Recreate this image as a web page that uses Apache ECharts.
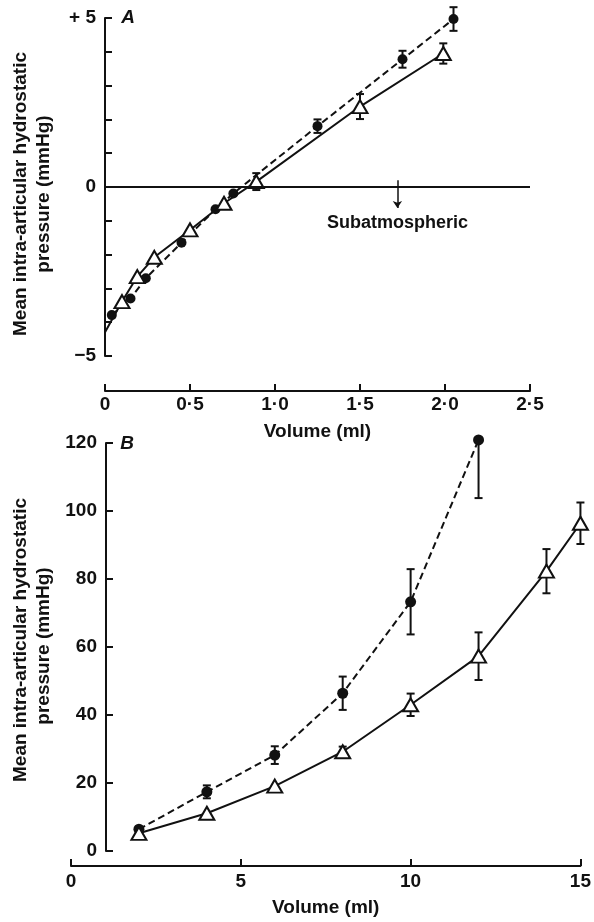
<!DOCTYPE html>
<html>
<head>
<meta charset="utf-8">
<script src="https://cdn.jsdelivr.net/npm/echarts@6/dist/echarts.min.js"></script>
<style>
  html, body { margin: 0; padding: 0; background: #fff; }
  #chart { width: 594px; height: 922px; }
</style>
</head>
<body>
<div id="chart"></div>
<script>
// Panel A: small injected volumes (ml) against mean pressure (mmHg)
const aCircleVolume = [0.04, 0.15, 0.24, 0.45, 0.65, 0.755, 1.25, 1.75, 2.05];
const aCirclePressure = [-3.79, -3.3, -2.7, -1.65, -0.66, -0.19, 1.8, 3.78, 4.97];
const aCircleError = [0, 0, 0, 0, 0, 0, 0.2, 0.25, 0.35];
const aTriangleVolume = [0.1, 0.19, 0.29, 0.5, 0.7, 0.89, 1.5, 1.99];
const aTrianglePressure = [-3.39, -2.65, -2.08, -1.27, -0.48, 0.16, 2.38, 3.95];
const aTriangleError = [0, 0, 0, 0, 0, 0.25, 0.37, 0.3];
const aSolidStart = [0, -4.3];           // origin of the solid curve (no marker)
const aYLabels = { '5': '+ 5', '0': '0', '-5': '\u22125' };
const aArrowVolume = 1.72;
const aArrowFrom = 0.2, aArrowTo = -0.62;

// Panel B: larger injected volumes (ml) against mean pressure (mmHg)
const bCircleVolume = [2, 4, 6, 8, 10, 12];
const bCirclePressure = [6.4, 17.4, 28.2, 46.4, 73.3, 120.9];
const bCircleErrLow = [0, 1.9, 2.6, 4.9, 9.6, 17.1];
const bCircleErrHigh = [0, 1.9, 2.6, 4.9, 9.6, 0];
const bTriangleVolume = [2, 4, 6, 8, 10, 12, 14, 15];
const bTrianglePressure = [5.2, 11.1, 19.1, 29.2, 43.0, 57.3, 82.3, 96.4];
const bTriangleError = [0, 0, 0, 1.5, 3.3, 7, 6.5, 6.1];

const FONT = '"Liberation Sans", Arial, Helvetica, sans-serif';
const INK = '#111';
const textStyle = { color: INK, fontFamily: FONT, fontWeight: 'bold', fontSize: 19 };

const pairs = (xs, ys) => xs.map((x, i) => [x, ys[i]]);
const bars = (xs, ys, lo, hi) =>
  xs.map((x, i) => [x, ys[i] - lo[i], ys[i] + hi[i]]).filter((d, i) => lo[i] > 0 || hi[i] > 0);

function renderErrorBar(params, api) {
  const x = api.value(0);
  const lo = api.coord([x, api.value(1)]);
  const hi = api.coord([x, api.value(2)]);
  const w = 4;
  const style = { stroke: INK, lineWidth: 2 };
  return {
    type: 'group',
    children: [
      { type: 'line', shape: { x1: lo[0], y1: lo[1], x2: hi[0], y2: hi[1] }, style },
      { type: 'line', shape: { x1: lo[0] - w, y1: lo[1], x2: lo[0] + w, y2: lo[1] }, style },
      { type: 'line', shape: { x1: hi[0] - w, y1: hi[1], x2: hi[0] + w, y2: hi[1] }, style }
    ]
  };
}

const axisLine = { show: true, onZero: false, lineStyle: { color: INK, width: 2 } };
const axisTick = { show: true, inside: true, length: 7, lineStyle: { color: INK, width: 2 } };

const circleStyle = { color: INK, borderColor: INK, borderWidth: 0 };
const triangleStyle = { color: '#fff', borderColor: INK, borderWidth: 2 };

const chart = echarts.init(document.getElementById('chart'), null, { renderer: 'canvas' });

chart.setOption({
  animation: false,
  backgroundColor: '#fff',
  grid: [
    { left: 105, top: 18, width: 425, height: 338 },
    { left: 71, top: 443, width: 512, height: 408 }
  ],
  xAxis: [
    {
      gridIndex: 0, type: 'value', min: 0, max: 2.5, interval: 0.5,
      position: 'bottom', offset: 35,
      axisLine, axisTick, splitLine: { show: false },
      axisLabel: {
        ...textStyle, margin: 4,
        formatter: v => (v === 0 ? '0' : v.toFixed(1).replace('.', '\u00b7'))
      },
      name: 'Volume (ml)', nameLocation: 'middle', nameGap: 31,
      nameTextStyle: textStyle
    },
    {
      gridIndex: 1, type: 'value', min: 0, max: 15, interval: 5,
      position: 'bottom', offset: 15,
      axisLine, axisTick, splitLine: { show: false },
      axisLabel: { ...textStyle, margin: 6 },
      name: 'Volume (ml)', nameLocation: 'middle', nameGap: 32,
      nameTextStyle: textStyle
    }
  ],
  yAxis: [
    {
      gridIndex: 0, type: 'value', min: -5, max: 5, interval: 1,
      axisLine, axisTick, splitLine: { show: false },
      axisLabel: { ...textStyle, margin: 9, formatter: v => aYLabels[String(v)] || '' }
    },
    {
      gridIndex: 1, type: 'value', min: 0, max: 120, interval: 20,
      offset: -35,
      axisLine, axisTick, splitLine: { show: false },
      axisLabel: { ...textStyle, margin: 9 }
    }
  ],
  graphic: [
    { type: 'text', x: 128, y: 18, style: { text: 'A', font: 'italic bold 19px ' + FONT, fill: INK, align: 'center', verticalAlign: 'middle' } },
    { type: 'text', x: 127, y: 444, style: { text: 'B', font: 'italic bold 19px ' + FONT, fill: INK, align: 'center', verticalAlign: 'middle' } },
    { type: 'text', x: 21, y: 194, rotation: Math.PI / 2, style: { text: 'Mean intra-articular hydrostatic', font: 'bold 19px ' + FONT, fill: INK, align: 'center', verticalAlign: 'middle' } },
    { type: 'text', x: 44, y: 194, rotation: Math.PI / 2, style: { text: 'pressure (mmHg)', font: 'bold 19px ' + FONT, fill: INK, align: 'center', verticalAlign: 'middle' } },
    { type: 'text', x: 21, y: 640, rotation: Math.PI / 2, style: { text: 'Mean intra-articular hydrostatic', font: 'bold 19px ' + FONT, fill: INK, align: 'center', verticalAlign: 'middle' } },
    { type: 'text', x: 44, y: 646, rotation: Math.PI / 2, style: { text: 'pressure (mmHg)', font: 'bold 19px ' + FONT, fill: INK, align: 'center', verticalAlign: 'middle' } }
  ],
  series: [
    // ---- Panel A ----
    {
      type: 'custom', xAxisIndex: 0, yAxisIndex: 0, z: 1, clip: false,
      renderItem: renderErrorBar,
      data: bars(aCircleVolume, aCirclePressure, aCircleError, aCircleError)
    },
    {
      type: 'custom', xAxisIndex: 0, yAxisIndex: 0, z: 1, clip: false,
      renderItem: renderErrorBar,
      data: bars(aTriangleVolume, aTrianglePressure, aTriangleError, aTriangleError)
    },
    {
      type: 'line', xAxisIndex: 0, yAxisIndex: 0, z: 3,
      data: pairs(aCircleVolume, aCirclePressure),
      symbol: 'circle', symbolSize: 10, itemStyle: circleStyle,
      lineStyle: { color: INK, width: 2, type: [7, 4] },
      markLine: {
        silent: true, symbol: 'none', animation: false,
        lineStyle: { color: INK, width: 2, type: 'solid' },
        label: { show: false },
        data: [{ yAxis: 0 }]
      }
    },
    {
      type: 'line', xAxisIndex: 0, yAxisIndex: 0, z: 4,
      data: [{ value: aSolidStart, symbol: 'none' }].concat(pairs(aTriangleVolume, aTrianglePressure)),
      symbol: 'triangle', symbolSize: [15, 13], itemStyle: triangleStyle,
      lineStyle: { color: INK, width: 2 },
      markLine: {
        silent: true, animation: false,
        symbol: ['none', 'arrow'], symbolSize: 7,
        lineStyle: { color: INK, width: 1.5, type: 'solid' },
        itemStyle: { color: INK },
        label: {
          show: true, position: 'end', distance: 6,
          formatter: 'Subatmospheric',
          color: INK, fontFamily: FONT, fontWeight: 'bold', fontSize: 18
        },
        data: [[{ coord: [aArrowVolume, aArrowFrom] }, { coord: [aArrowVolume, aArrowTo] }]]
      }
    },
    // ---- Panel B ----
    {
      type: 'custom', xAxisIndex: 1, yAxisIndex: 1, z: 1, clip: false,
      renderItem: renderErrorBar,
      data: bars(bCircleVolume, bCirclePressure, bCircleErrLow, bCircleErrHigh)
    },
    {
      type: 'custom', xAxisIndex: 1, yAxisIndex: 1, z: 1, clip: false,
      renderItem: renderErrorBar,
      data: bars(bTriangleVolume, bTrianglePressure, bTriangleError, bTriangleError)
    },
    {
      type: 'line', xAxisIndex: 1, yAxisIndex: 1, z: 3, clip: false,
      data: pairs(bCircleVolume, bCirclePressure),
      symbol: 'circle', symbolSize: 11, itemStyle: circleStyle,
      lineStyle: { color: INK, width: 2, type: [7, 4] }
    },
    {
      type: 'line', xAxisIndex: 1, yAxisIndex: 1, z: 4, clip: false,
      data: pairs(bTriangleVolume, bTrianglePressure),
      symbol: 'triangle', symbolSize: [15, 13], itemStyle: triangleStyle,
      lineStyle: { color: INK, width: 2 }
    }
  ]
});
</script>
</body>
</html>
